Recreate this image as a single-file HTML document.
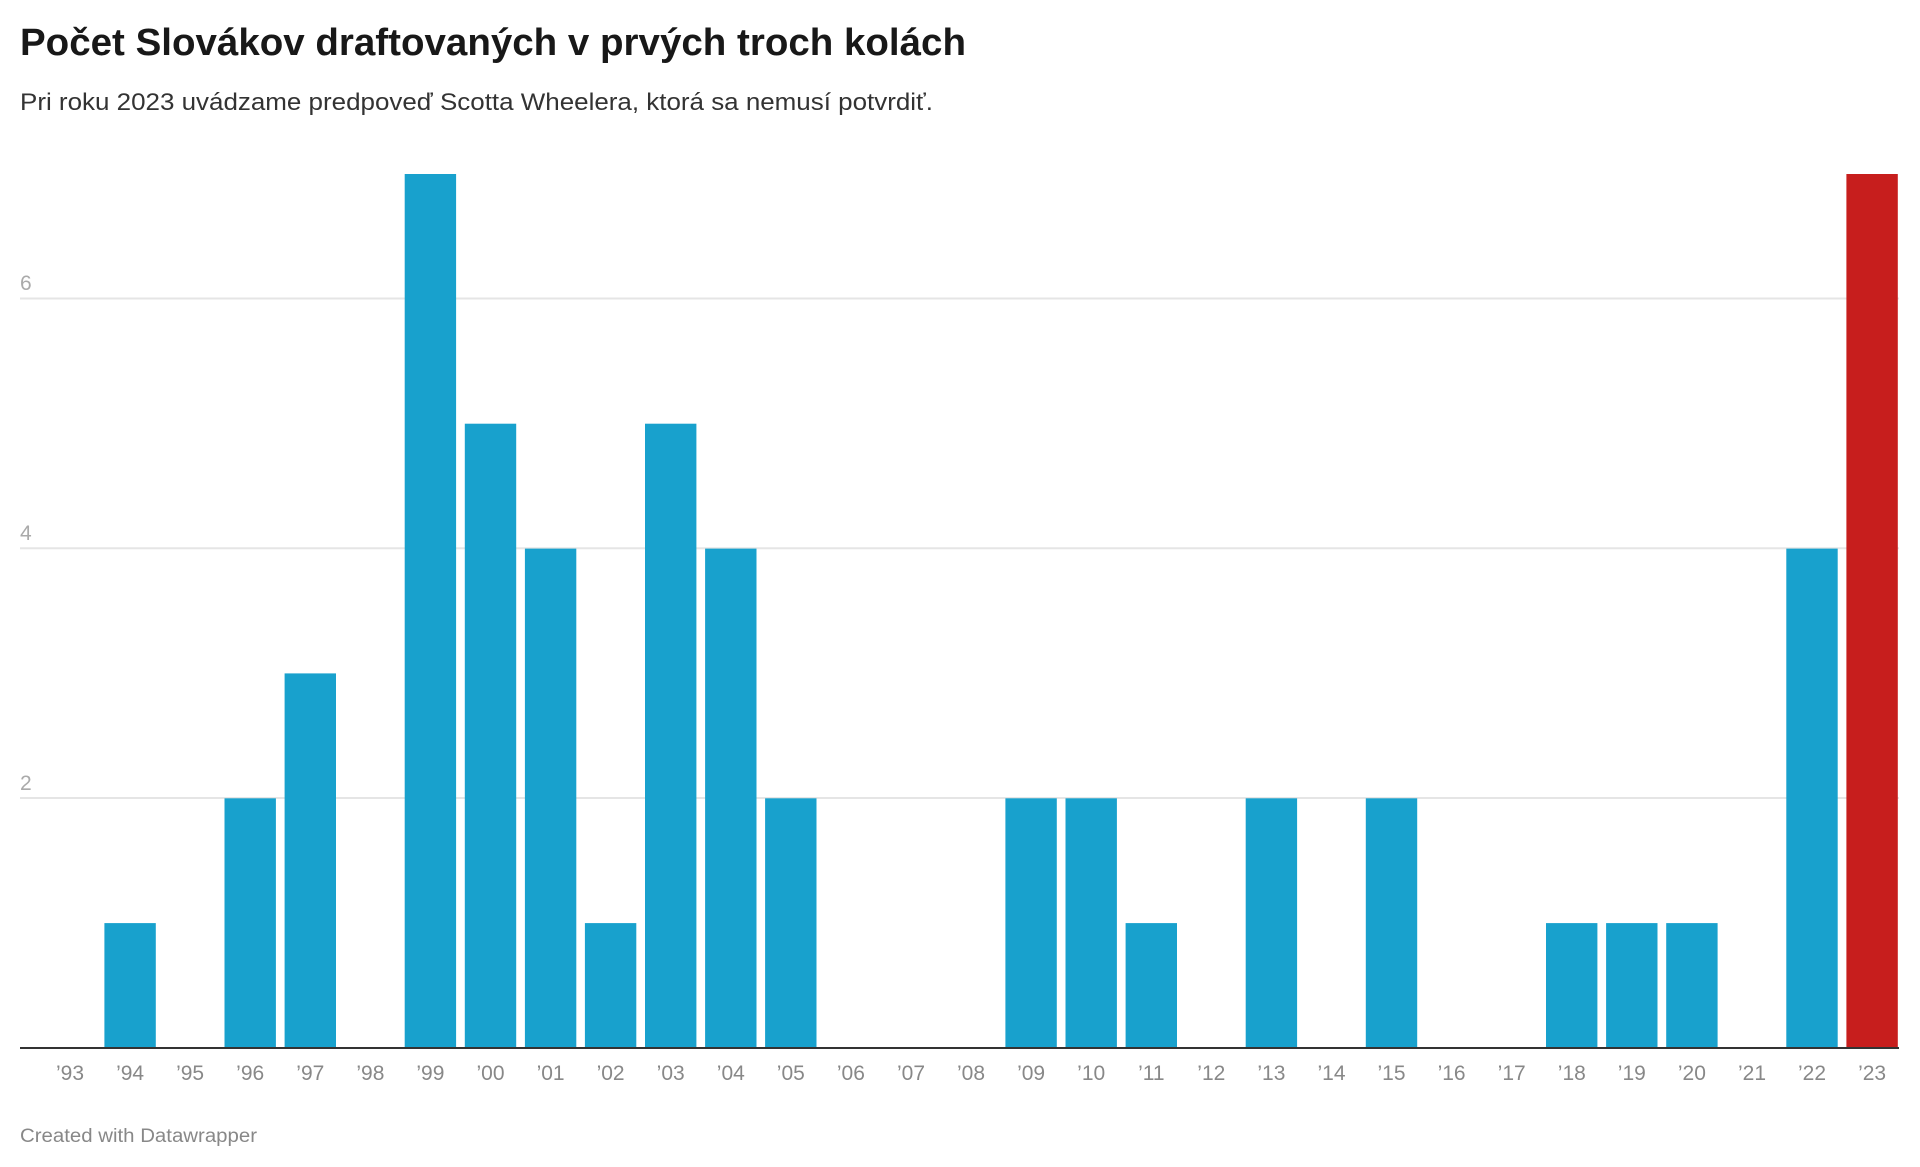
<!DOCTYPE html>
<html><head><meta charset="utf-8"><style>
html,body{margin:0;padding:0;background:#fff;}
svg{display:block;font-family:"Liberation Sans",sans-serif;}
</style></head><body>
<svg width="1920" height="1167" viewBox="0 0 1920 1167" xmlns="http://www.w3.org/2000/svg">
<text x="20" y="55" font-size="38" font-weight="bold" fill="#181818" textLength="946" lengthAdjust="spacingAndGlyphs">Počet Slovákov draftovaných v prvých troch kolách</text>
<text x="20" y="110" font-size="24" fill="#333" textLength="913" lengthAdjust="spacingAndGlyphs">Pri roku 2023 uvádzame predpoveď Scotta Wheelera, ktorá sa nemusí potvrdiť.</text>
<g stroke="#e5e5e5" stroke-width="2">
<line x1="20" x2="1899" y1="298.5" y2="298.5"/>
<line x1="20" x2="1899" y1="548.3" y2="548.3"/>
<line x1="20" x2="1899" y1="798" y2="798"/>
</g>
<g font-size="21" fill="#aaa">
<text x="20" y="290">6</text>
<text x="20" y="540">4</text>
<text x="20" y="790">2</text>
</g>
<g id="bars"></g>
<line x1="20" x2="1899" y1="1048" y2="1048" stroke="#333" stroke-width="2"/>
<g id="labels" font-size="21" fill="#888" text-anchor="middle"></g>
<text x="20" y="1142" font-size="19" fill="#888" textLength="237" lengthAdjust="spacingAndGlyphs">Created with Datawrapper</text>
</svg>
<script>
var v=[0,1,0,2,3,0,7,5,4,1,5,4,2,0,0,0,2,2,1,0,2,0,2,0,0,1,1,1,0,4,7];
var ns="http://www.w3.org/2000/svg",b=document.getElementById("bars"),l=document.getElementById("labels");
for(var i=0;i<31;i++){var c=70+i*60.07;
if(v[i]>0){var r=document.createElementNS(ns,"rect");var h=v[i]*124.86;
r.setAttribute("x",(c-25.7).toFixed(1));r.setAttribute("width","51.4");r.setAttribute("y",(1048-h).toFixed(1));r.setAttribute("height",h.toFixed(1));
r.setAttribute("fill",i==30?"#c71e1d":"#18a1cd");b.appendChild(r);}
var t=document.createElementNS(ns,"text");t.setAttribute("x",c.toFixed(1));t.setAttribute("y","1080");
var y=(93+i)%100;t.textContent="\u2019"+(y<10?"0"+y:y);l.appendChild(t);}
</script>
</body></html>
